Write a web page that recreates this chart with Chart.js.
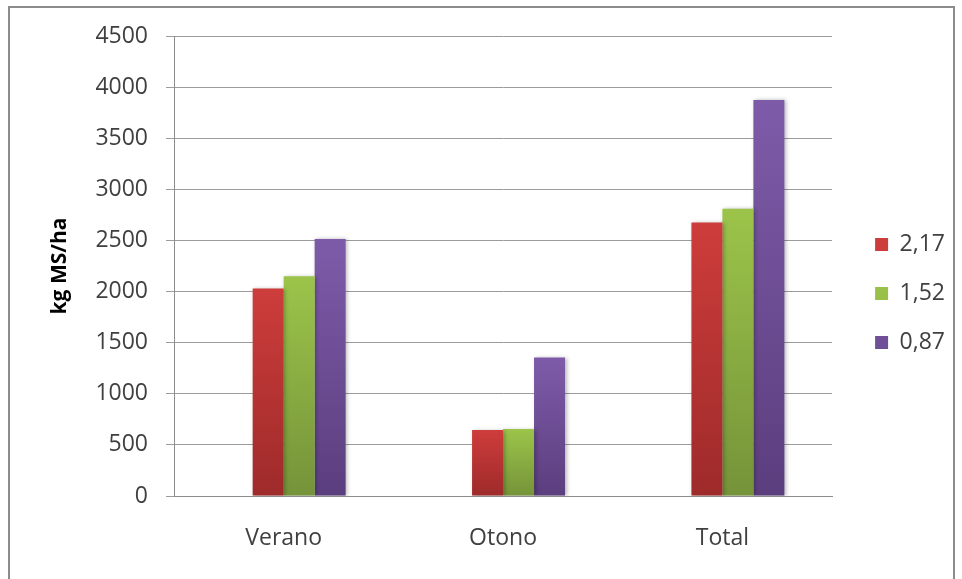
<!DOCTYPE html>
<html>
<head>
<meta charset="utf-8">
<title>kg MS/ha</title>
<script src="https://cdn.jsdelivr.net/npm/chart.js@4/dist/chart.umd.min.js"></script>
<style>
  html, body { margin: 0; padding: 0; background: #fff; }
  #wrap { position: relative; width: 962px; height: 579px; overflow: hidden; }
  #frame { position: absolute; left: 8px; top: 6px; width: 947px; height: 600px;
           box-sizing: border-box; border: 2px solid #8c8c8c; pointer-events: none; }
  canvas { position: absolute; left: 0; top: 0; }
</style>
</head>
<body>
<div id="wrap">
  <canvas id="chart" width="962" height="579"></canvas>
  <div id="frame"></div>
</div>
<script>
// Seasons on the category axis
const categories = ['Verano', 'Otono', 'Total'];
// Series names shown in the legend
const seriesNames = ['2,17', '1,52', '0,87'];
// Forage yield, kg MS/ha, per series
const series217 = [2030, 645, 2675];
const series152 = [2150, 655, 2810];
const series087 = [2515, 1355, 3875];
// Empty leading slot of each cluster (keeps the bars right of the category centre)
const emptySlot = [null, null, null];
// Value axis ticks
const yTickValues = [0, 500, 1000, 1500, 2000, 2500, 3000, 3500, 4000, 4500];

// Vertical gradient for each bar, from its top down to the zero line
function barFill(topColor, bottomColor) {
  return (ctx) => {
    const chart = ctx.chart;
    if (ctx.type !== 'data' || !chart.chartArea || ctx.raw == null) return topColor;
    const y = chart.scales.y;
    const yTop = y.getPixelForValue(ctx.raw);
    const yBase = y.getPixelForValue(0);
    if (!(yBase > yTop)) return topColor;
    const g = chart.ctx.createLinearGradient(0, yTop, 0, yBase);
    g.addColorStop(0, topColor);
    g.addColorStop(1, bottomColor);
    return g;
  };
}

// Soft drop shadow under the bars
const barShadow = {
  id: 'barShadow',
  beforeDatasetsDraw(chart) {
    const c = chart.ctx;
    c.save();
    c.shadowColor = 'rgba(0,0,0,0.28)';
    c.shadowBlur = 4;
    c.shadowOffsetX = 1.5;
    c.shadowOffsetY = 0.5;
  },
  afterDatasetsDraw(chart) {
    chart.ctx.restore();
  }
};

Chart.defaults.font.family = "'Open Sans', 'DejaVu Sans', sans-serif";
Chart.defaults.color = '#404040';

new Chart(document.getElementById('chart'), {
  type: 'bar',
  data: {
    labels: categories,
    datasets: [
      { label: '', data: emptySlot, backgroundColor: 'rgba(0,0,0,0)' },
      { label: seriesNames[0], data: series217, backgroundColor: barFill('#cd3d3b', '#9e2a2a') },
      { label: seriesNames[1], data: series152, backgroundColor: barFill('#9cc44a', '#759339') },
      { label: seriesNames[2], data: series087, backgroundColor: barFill('#7e5ba9', '#5b3e7e') }
    ]
  },
  options: {
    responsive: false,
    animation: false,
    events: [],
    datasets: {
      bar: { categoryPercentage: 0.565, barPercentage: 1.0, borderWidth: 0 }
    },
    layout: { padding: { top: 36, left: 0, right: 7, bottom: 28 } },
    plugins: {
      legend: {
        position: 'right',
        labels: {
          filter: (item) => item.text !== '',
          font: { size: 23 },
          color: '#404040',
          boxWidth: 13,
          boxHeight: 13,
          padding: 26
        }
      },
      tooltip: { enabled: false }
    },
    scales: {
      x: {
        grid: { display: false, drawTicks: false },
        border: { display: true, color: '#8c8c8c', width: 1 },
        ticks: { font: { size: 23 }, color: '#404040', padding: 29 },
        afterFit: (s) => { s.height = 55; }
      },
      y: {
        min: 0,
        max: 4500,
        afterBuildTicks: (s) => { s.ticks = yTickValues.map(v => ({ value: v })); },
        grid: { color: '#9c9c9c', lineWidth: 1, tickLength: 8, drawTicks: true },
        border: { display: true, color: '#8c8c8c', width: 1 },
        ticks: { font: { size: 23 }, color: '#404040', padding: 18, callback: (v) => String(v) },
        title: {
          display: true,
          text: 'kg MS/ha',
          color: '#000',
          font: { size: 21, weight: 'bold', lineHeight: 1.2 },
          padding: { top: 47, bottom: 0 }
        },
        afterFit: (s) => { s.width = 174; }
      },
      gap: {
        type: 'linear',
        axis: 'y',
        position: 'right',
        display: true,
        grid: { display: false, drawTicks: false },
        border: { display: false },
        ticks: { display: false },
        afterFit: (s) => { s.width = 17; }
      }
    }
  },
  plugins: [barShadow]
});
</script>
</body>
</html>
